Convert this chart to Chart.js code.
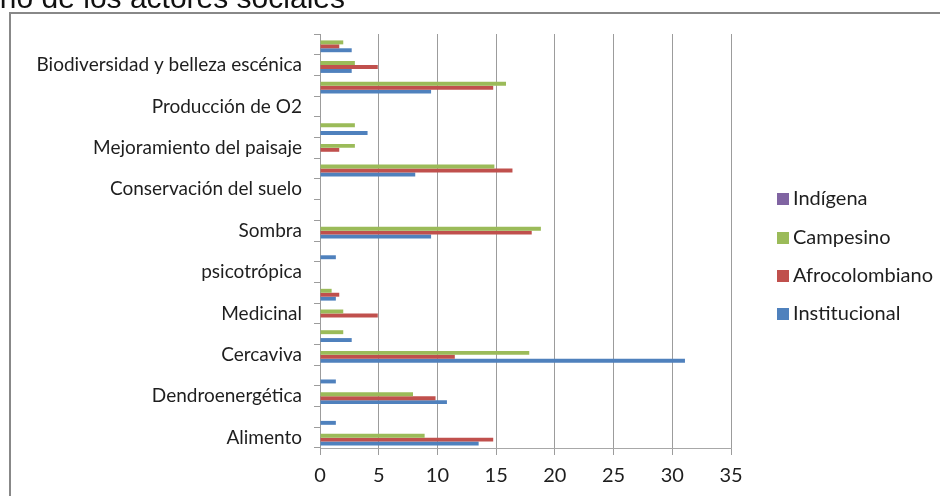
<!DOCTYPE html>
<html lang="es">
<head>
<meta charset="utf-8">
<title>Usos según los actores sociales</title>
<script src="https://cdn.jsdelivr.net/npm/chart.js@4.4.1/dist/chart.umd.min.js"></script>
<style>
  html, body { margin: 0; padding: 0; background: #ffffff; }
  #wrap { width: 940px; height: 496px; overflow: hidden; }
</style>
</head>
<body>
<div id="wrap"><canvas id="chart" width="940" height="496"></canvas></div>
<script>
// Categories, listed top to bottom (unlabelled rows keep an empty label)
const categories = [
  '', 'Biodiversidad y belleza escénica',
  '', 'Producción de O2',
  '', 'Mejoramiento del paisaje',
  '', 'Conservación del suelo',
  '', 'Sombra',
  '', 'psicotrópica',
  '', 'Medicinal',
  '', 'Cercaviva',
  '', 'Dendroenergética',
  '', 'Alimento'
];

// Percentages per social actor, same order as the categories
const indigena       = [0, 0, 0, 0, 0, 0, 0, 0, 0, 0, 0, 0, 0, 0, 0, 0, 0, 0, 0, 0];
const campesino      = [1.98, 2.97, 15.84, 0, 2.97, 2.97, 14.85, 0, 0, 18.81, 0, 0, 0.99, 1.98, 1.98, 17.82, 0, 7.92, 0, 8.91];
const afrocolombiano = [1.64, 4.92, 14.75, 0, 0, 1.64, 16.39, 0, 0, 18.03, 0, 0, 1.64, 4.92, 0, 11.48, 0, 9.84, 0, 14.75];
const institucional  = [2.70, 2.70, 9.46, 0, 4.05, 0, 8.11, 0, 0, 9.46, 1.35, 0, 1.35, 0, 2.70, 31.08, 1.35, 10.81, 1.35, 13.51];

const xTicks = [0, 5, 10, 15, 20, 25, 30, 35];

const seriesNames = ['Indígena', 'Campesino', 'Afrocolombiano', 'Institucional'];
const seriesValues = [indigena, campesino, afrocolombiano, institucional];
const seriesColors = ['#8064A2', '#9BBB59', '#C0504D', '#4F81BD'];

const TEXT = '#1e1e1e';
const GRID = '#9c9c9c';

// Outer frame, clipped heading and the legend column on the right
const decorations = {
  id: 'decorations',
  beforeDraw(chart) {
    const ctx = chart.ctx;
    ctx.save();
    ctx.fillStyle = '#ffffff';
    ctx.fillRect(0, 0, chart.width, chart.height);
    ctx.restore();
  },
  afterDraw(chart) {
    const ctx = chart.ctx;
    ctx.save();
    // frame
    ctx.strokeStyle = '#888888';
    ctx.lineWidth = 2;
    ctx.strokeRect(10, 13, chart.width + 20, chart.height + 20);
    // heading (runs above the top edge)
    ctx.fillStyle = '#111111';
    ctx.font = "30px 'Liberation Sans', Arial, sans-serif";
    ctx.textAlign = 'right';
    ctx.textBaseline = 'alphabetic';
    ctx.fillText('criterio de los actores sociales', 345, 8);
    // legend
    ctx.font = "20px Lato, sans-serif";
    ctx.textAlign = 'left';
    ctx.textBaseline = 'middle';
    const rowY = [199, 238, 276, 314];
    chart.data.datasets.forEach((ds, i) => {
      const y = rowY[i];
      ctx.fillStyle = ds.backgroundColor;
      ctx.fillRect(777, y - 6, 12, 12);
      ctx.fillStyle = TEXT;
      ctx.fillText(ds.label, 793, y);
    });
    ctx.restore();
  }
};

new Chart(document.getElementById('chart'), {
  type: 'bar',
  data: {
    labels: categories,
    datasets: seriesNames.map((name, i) => ({
      label: name,
      data: seriesValues[i],
      backgroundColor: seriesColors[i],
      borderWidth: 0,
      categoryPercentage: 0.76,
      barPercentage: 1.0
    }))
  },
  options: {
    indexAxis: 'y',
    responsive: false,
    animation: false,
    devicePixelRatio: 1,
    layout: { padding: { top: 34, right: 209, bottom: 0, left: 0 } },
    plugins: {
      legend: { display: false },
      title: { display: false },
      tooltip: { enabled: false }
    },
    scales: {
      x: {
        min: 0,
        max: 35,
        afterFit(scale) { scale.height = 48; },
        afterBuildTicks(scale) { scale.ticks = xTicks.map(v => ({ value: v })); },
        grid: { color: GRID, lineWidth: 1, tickLength: 7, drawTicks: true },
        border: { display: true, color: '#a8a8a8', width: 1 },
        ticks: { color: TEXT, font: { family: 'Lato', size: 20 }, padding: 9, maxRotation: 0 }
      },
      y: {
        afterFit(scale) { scale.width = 320; },
        grid: { display: true, drawOnChartArea: false, offset: true, tickLength: 6, color: GRID },
        border: { display: true, color: GRID, width: 1 },
        ticks: { color: TEXT, font: { family: 'Lato', size: 19 }, padding: 12, autoSkip: false }
      }
    }
  },
  plugins: [decorations]
});
</script>
</body>
</html>
